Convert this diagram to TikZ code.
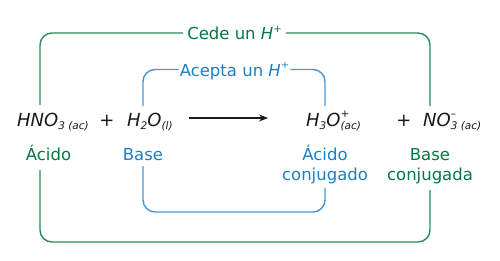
\documentclass[tikz,border=0pt]{standalone}
\usepackage{fontspec}
\setmainfont{DejaVu Sans}
\usetikzlibrary{arrows.meta}

\definecolor{acidgreen}{RGB}{0,122,64}
\definecolor{acidgreenline}{RGB}{40,140,88}
\definecolor{baseblue}{RGB}{25,128,200}
\definecolor{baseblueline}{RGB}{70,152,212}
\definecolor{ink}{RGB}{25,25,25}

% chemical subscripts and stacked super/subscripts
\newcommand{\chemsub}[1]{\raisebox{-0.22em}{\fontsize{10.5}{10}\selectfont #1}}
\newcommand{\chemsubsup}[2]{\makebox[0pt][l]{\raisebox{0.5em}{\fontsize{10.5}{10}\selectfont #1}}\raisebox{-0.22em}{\fontsize{10.5}{10}\selectfont #2}}
\newcommand{\protonlabel}{\textit{H}\raisebox{0.45em}{\fontsize{10}{10}\selectfont +}}

\begin{document}
\begin{tikzpicture}[x=1pt,y=-1pt,
  every node/.style={inner sep=0pt, font=\fontsize{16.5}{20}\selectfont},
  formula/.style={anchor=base west, text=ink, font=\fontsize{18}{20}\selectfont\itshape},
  plussign/.style={anchor=base, text=ink, font=\fontsize{18}{20}\selectfont},
  greenlbl/.style={text=acidgreen, align=center},
  bluelbl/.style={text=baseblue, align=center},
  greenwire/.style={draw=acidgreenline, line width=1.4pt, rounded corners=12pt},
  bluewire/.style={draw=baseblueline, line width=1.4pt, rounded corners=12pt}]
\useasboundingbox (0,0) rectangle (500,260);

% equation
\node[formula] (hno) at (17,126) {HNO\chemsub{3 (ac)}};
\node[plussign] (plusA) at (107,126) {+};
\node[formula] (water) at (127,126) {H\chemsub{2}O\chemsub{(l)}};
\node[formula] (hydronium) at (306,126) {H\chemsub{3}O\chemsubsup{+}{(ac)}};
\node[plussign] (plusB) at (404,126) {+};
\node[formula] (nitrate) at (423,126) {NO\chemsubsup{--}{3 (ac)}};

\coordinate (arrowtail) at (189,118);
\coordinate (arrowhead) at (268,118);
\draw[ink, line width=1.2pt, -{Stealth[length=9pt,width=7pt]}] (arrowtail) -- (arrowhead);

% role labels (base anchor of a two-line node sits on its last line)
\node[greenlbl, anchor=base] (acid) at (48.5,160) {Ácido};
\node[bluelbl, anchor=base] (base) at (143,160) {Base};
\node[bluelbl, anchor=base] (conjacid) at (325,180) {Ácido\\conjugado};
\node[greenlbl, anchor=base] (conjbase) at (430,180) {Base\\conjugada};

% proton transfer labels
\node[text=acidgreen, inner xsep=4pt, text depth=0pt] (cede) at (234.5,33) {Cede un \protonlabel};
\node[text=baseblue, inner xsep=1pt, text depth=0pt] (acepta) at (234.5,69.5) {Acepta un \protonlabel};

% connector end points
\coordinate (acidTop) at (40,105);
\coordinate (conjbaseTop) at (430,106);
\coordinate (waterTop) at (143,106);
\coordinate (hydrTop) at (325,106);
\coordinate (baseBottom) at (143,166);
\coordinate (blueFloor) at (143,212);
\coordinate (conjacidBottom) at (325,188);
\coordinate (acidBottom) at (40,170);
\coordinate (greenFloor) at (40,242);
\coordinate (conjbaseBottom) at (430,190);

% green brackets: acid / conjugate base
\draw[greenwire] (acidTop) |- (cede.west);
\draw[greenwire] (cede.east) -| (conjbaseTop);
\draw[greenwire] (acidBottom) -- (greenFloor) -| (conjbaseBottom);

% blue brackets: base / conjugate acid
\draw[bluewire] (waterTop) |- (acepta.west);
\draw[bluewire] (acepta.east) -| (hydrTop);
\draw[bluewire] (baseBottom) -- (blueFloor) -| (conjacidBottom);
\end{tikzpicture}
\end{document}
